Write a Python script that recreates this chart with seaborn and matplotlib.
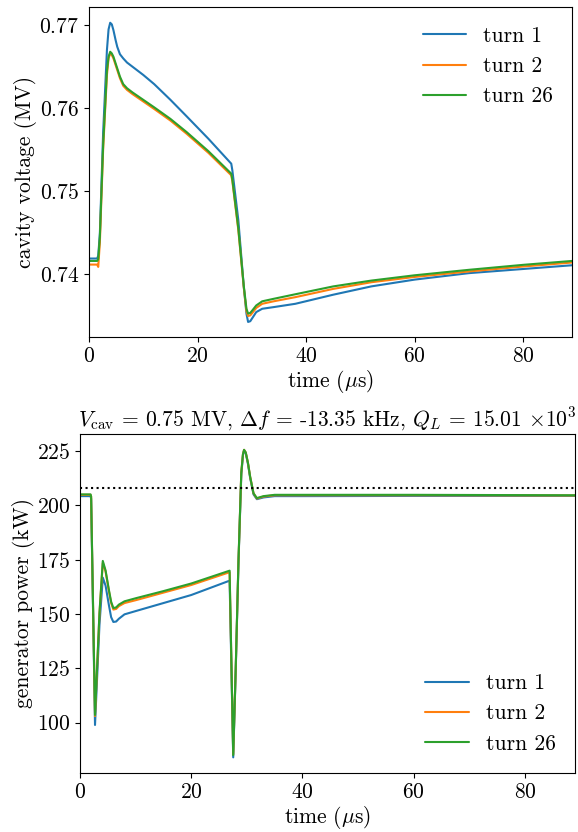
import pandas as pd
import seaborn as sns
import matplotlib.pyplot as plt

# ---- data ----
turns = ['turn 1', 'turn 2', 'turn 26']
colors = ['#1f77b4', '#ff7f0e', '#2ca02c']

# cavity voltage (MV)
t_v = [0, 1.5, 1.7, 2.0, 2.6, 3.3, 3.6, 3.9, 4.2, 4.5, 4.9, 5.2, 5.7, 6.3, 7.0, 8, 10, 12,
       15, 18, 22, 26.2,
       26.4, 27.5, 28.5, 29.0, 29.3, 29.7, 30.2, 30.8, 31.9, 34, 38, 45, 52, 60, 70, 80, 89]
v_turn1 = [0.74186, 0.74186, 0.7422, 0.7449, 0.7570, 0.7670, 0.7695, 0.7703, 0.7701, 0.7694,
           0.7682, 0.7674, 0.7665, 0.7660, 0.7655, 0.7650, 0.7640, 0.7629,
           0.7610, 0.7590, 0.7563, 0.7533,
           0.7525, 0.7465, 0.7385, 0.7352, 0.73421, 0.7343, 0.7348, 0.7354, 0.7358, 0.7360,
           0.7364, 0.7375, 0.7385, 0.73932, 0.7401, 0.7406, 0.74105]
v_turn2 = [0.74113, 0.74113, 0.74085, 0.7438, 0.7550, 0.7640, 0.7660, 0.7666, 0.7664, 0.7660,
           0.7652, 0.7646, 0.7636, 0.7627, 0.7622, 0.7617, 0.7608, 0.7599,
           0.7585, 0.7569, 0.7546, 0.7519,
           0.7512, 0.7453, 0.7384, 0.7355, 0.73493, 0.7350, 0.7354, 0.7359, 0.7364, 0.7367,
           0.7372, 0.7382, 0.7390, 0.73964, 0.7403, 0.7409, 0.74138]
v_turn26 = [0.74157, 0.74157, 0.7418, 0.7445, 0.7555, 0.7645, 0.7662, 0.7668, 0.7666, 0.7662,
            0.7654, 0.7648, 0.7638, 0.7629, 0.7624, 0.7619, 0.7610, 0.7601,
            0.7587, 0.7571, 0.7548, 0.7521,
            0.7514, 0.7455, 0.7386, 0.7358, 0.73522, 0.7353, 0.7357, 0.7362, 0.7367, 0.7370,
            0.73755, 0.7385, 0.7392, 0.73984, 0.7405, 0.7411, 0.74157]

# generator power (kW)
t_p = [0, 1.9, 2.0, 2.7, 3.5, 4.1, 4.6, 5.2, 5.6, 6.0, 6.5, 7.0, 8.0, 10, 15, 20, 26.9,
       27.55, 28.0, 28.5, 29.0, 29.3, 29.5, 29.8, 30.2, 30.6, 31.2, 31.8, 33, 35, 40, 60, 89]
p_turn1 = [204.2, 204.2, 203.0, 98.9, 145.0, 166.7, 163.0, 154.0, 148.5, 146.3, 146.5, 147.8,
           149.8, 151.3, 155.0, 158.7, 165.3,
           84.0, 124.0, 174.0, 214.0, 223.0, 225.2, 224.0, 219.0, 212.5, 205.0, 202.8, 203.6,
           204.2, 204.2, 204.3, 204.3]
p_turn2 = [204.8, 204.8, 204.0, 103.0, 150.0, 173.5, 169.5, 160.5, 155.0, 152.0, 152.3, 153.6,
           155.0, 156.3, 159.8, 163.3, 169.2,
           85.5, 125.0, 175.0, 215.0, 223.5, 225.5, 224.3, 219.5, 213.0, 205.5, 203.1, 204.0,
           204.6, 204.6, 204.6, 204.5]
p_turn26 = [205.0, 205.0, 204.0, 103.5, 150.5, 174.4, 170.0, 161.0, 155.6, 152.7, 153.0, 154.3,
            155.8, 157.2, 160.5, 164.0, 169.9,
            85.0, 125.0, 175.0, 215.0, 223.5, 225.5, 224.3, 219.5, 213.0, 205.5, 203.3, 204.2,
            204.8, 204.8, 204.8, 204.6]
p_limit = 208.0

title = r'$V_{\rm cav}$ = 0.75 MV, $\Delta f$ = -13.35 kHz, $Q_L$ = 15.01 $\times 10^3$'

# ---- long-format tables ----
df_v = pd.concat([pd.DataFrame({'time': t_v, 'value': v, 'turn': n})
                  for n, v in zip(turns, [v_turn1, v_turn2, v_turn26])])
df_p = pd.concat([pd.DataFrame({'time': t_p, 'value': p, 'turn': n})
                  for n, p in zip(turns, [p_turn1, p_turn2, p_turn26])])

sns.set_style('ticks')
plt.rcParams.update({
    'font.family': 'cmr10',
    'mathtext.fontset': 'cm',
    'axes.formatter.use_mathtext': True,
    'font.size': 15.5,
    'axes.edgecolor': 'black',
    'text.color': 'black',
    'axes.labelcolor': 'black',
    'xtick.color': 'black',
    'ytick.color': 'black',
    'axes.unicode_minus': False,
})

fig = plt.figure(figsize=(5.78, 8.32), dpi=100)
ax1 = fig.add_axes([0.154, 0.595, 0.836, 0.3966])
ax2 = fig.add_axes([0.1384, 0.0709, 0.8564, 0.4075])

# cavity voltage
sns.lineplot(data=df_v, x='time', y='value', hue='turn', palette=colors,
             estimator=None, sort=False, linewidth=1.5, ax=ax1)
ax1.set_xlim(0, 89)
ax1.set_ylim(0.7324, 0.7722)
ax1.set_yticks([0.74, 0.75, 0.76, 0.77])
ax1.set_xticks([0, 20, 40, 60, 80])
ax1.set_xlabel(r'time ($\mu$s)', labelpad=1.5)
ax1.set_ylabel('cavity voltage (MV)', labelpad=1.5)
ax1.legend(loc='upper right', frameon=False)

# generator power
sns.lineplot(data=df_p, x='time', y='value', hue='turn', palette=colors,
             estimator=None, sort=False, linewidth=1.5, ax=ax2)
ax2.axhline(p_limit, color='black', linestyle=':', linewidth=1.5)
ax2.set_xlim(0, 89)
ax2.set_ylim(76.8, 232.8)
ax2.set_yticks([100, 125, 150, 175, 200, 225])
ax2.set_xticks([0, 20, 40, 60, 80])
ax2.set_xlabel(r'time ($\mu$s)', labelpad=1.5)
ax2.set_ylabel('generator power (kW)', labelpad=1.5)
ax2.set_title(title, fontsize=15.5)
ax2.legend(loc='lower right', frameon=False)

fig.savefig('out.png', dpi=100)
